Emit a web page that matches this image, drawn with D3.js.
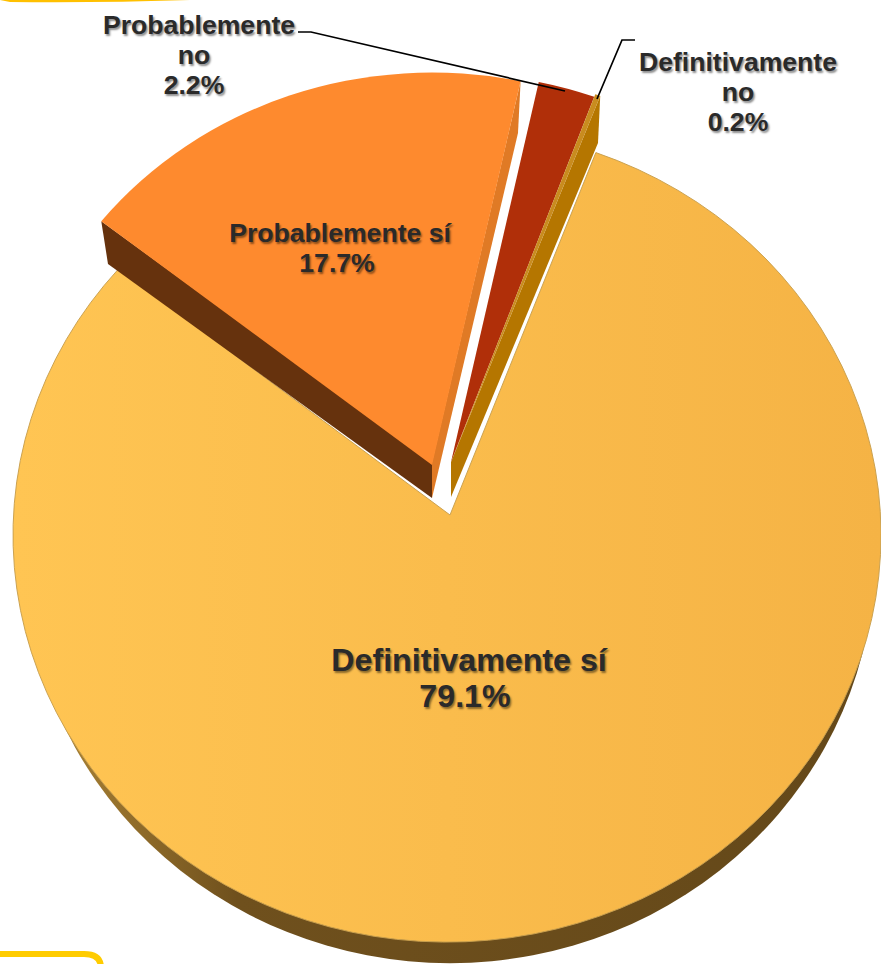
<!DOCTYPE html>
<html>
<head>
<meta charset="utf-8">
<script src="https://cdnjs.cloudflare.com/ajax/libs/d3/7.8.5/d3.min.js"></script>
<style>
html, body { margin: 0; padding: 0; background: #fff; overflow: hidden; }
text { font-family: "Liberation Sans", Arial, sans-serif; font-weight: bold; fill: #2a2a2a; text-anchor: middle; text-shadow: 1.5px 1.5px 2px rgba(0,0,0,.45); }
</style>
</head>
<body>
<div id="chart"></div>
<script>
const CATEGORIES = ["Definitivamente sí", "Probablemente sí", "Probablemente no", "Definitivamente no"];
const VALUES = [79.1, 17.7, 2.2, 0.2];
const LABELS = ["79.1%", "17.7%", "2.2%", "0.2%"];

const WIDTH = 881, HEIGHT = 964;
const RAD = Math.PI / 180;

// how the page is tilted: height of the pie / width of the pie
const TILT = 0.93;
const MAIN_TILT = 0.938;
const START_DEG = -51.6;

// slice layout, same order as CATEGORIES (cx,cy = apex after it is pulled out)
const SLICES = [
    {cx: 447, cy: 535, r: 434},
    {cx: 432, cy: 465, r: 422},
    {cx: 451, cy: 462, r: 418},
    {cx: 451, cy: 462, r: 421}
];
const TOP_COLORS = ["url(#mainTop)", "#fe8a2e", "#b02f09", "#c98c1f"];
const LABEL_POS = [
    {x: 469, y: 671, size: 32.2, step: 36, lines: [[CATEGORIES[0], 0], [LABELS[0], -4]]},
    {x: 340, y: 242, size: 26.6, step: 30, lines: [[CATEGORIES[1], 0], [LABELS[1], -3]]},
    {x: 199, y: 34, size: 26.6, step: 30, lines: [["Probablemente", 0], ["no", -5], [LABELS[2], -5]]},
    {x: 738, y: 71, size: 26.6, step: 30, lines: [["Definitivamente", 0], ["no", 0], [LABELS[3], 0]]}
];

var svg = d3.select('#chart').append('svg')
    .attr('width', WIDTH)
    .attr('height', HEIGHT)
    .style('display', 'block');

var defs = svg.append('defs');
var grad = defs.append('linearGradient').attr('id', 'mainTop');
grad.append('stop').attr('offset', '0%').attr('stop-color', '#ffc553');
grad.append('stop').attr('offset', '100%').attr('stop-color', '#f5b345');
var wallGrad = defs.append('linearGradient').attr('id', 'mainWall');
wallGrad.append('stop').attr('offset', '5%').attr('stop-color', '#a67f33');
wallGrad.append('stop').attr('offset', '25%').attr('stop-color', '#6f501d');
wallGrad.append('stop').attr('offset', '100%').attr('stop-color', '#644819');

// slices run clockwise from the left corner of the orange one
// the four values only add up to 99.2 so the sweep is cut to match
var total = d3.sum(VALUES);
var pie = d3.pie().sort(null).startAngle(START_DEG * RAD).endAngle((START_DEG + total * 3.6) * RAD);
var order = [1, 2, 3, 0];
var arcs = pie(order.map(function(i) { return VALUES[i]; }));
var angles = {};
order.forEach(function(i, k) { angles[i] = arcs[k]; });

function point(i, a) {
    var s = SLICES[i];
    return [s.cx + s.r * Math.sin(a), s.cy - s.r * TILT * Math.cos(a)];
}
function poly(pts) { return 'M' + pts.map(function(p) { return p[0] + ',' + p[1]; }).join('L') + 'Z'; }

// wall of the big slice, only the front half is ever visible
var wall = d3.path();
wall.arc(0, 0, 425, 0, Math.PI, false);
wall.closePath();
svg.append('path')
    .attr('d', wall.toString())
    .attr('transform', 'translate(450,555) scale(1,' + (408 / 425) + ')')
    .attr('fill', 'url(#mainWall)');

// big slice, apex sits above the centre of its ellipse because of the perspective
var apexMain = [450, 515];
var mainA0 = angles[0].startAngle - 0.7 * RAD;
var mainA1 = angles[0].endAngle + 5.3 * RAD;
var main = d3.path();
main.moveTo(apexMain[0] - SLICES[0].cx, (apexMain[1] - SLICES[0].cy) / MAIN_TILT);
main.arc(0, 0, SLICES[0].r, mainA0 - Math.PI / 2, mainA1 - Math.PI / 2, false);
main.closePath();
svg.append('path')
    .attr('d', main.toString())
    .attr('transform', 'translate(' + SLICES[0].cx + ',' + SLICES[0].cy + ') scale(1,' + MAIN_TILT + ')')
    .attr('fill', TOP_COLORS[0])
    .attr('stroke', '#c9a04e')
    .attr('stroke-width', 1);

// orange slice cut faces
var oL = point(1, angles[1].startAngle);
var oR = point(1, angles[1].endAngle);
svg.append('path').attr('d', poly([[432, 462], oL, [108, 264], [432, 498]])).attr('fill', '#66320d');
svg.append('path').attr('d', poly([[432, 462], oR, [518, 133], [432, 498]])).attr('fill', '#e07a25');

// amber slice cut face
var aR = point(3, angles[3].endAngle);
svg.append('path').attr('d', poly([[451, 462], aR, [598, 143], [451, 497]])).attr('fill', '#b57600');

// top faces of the three pulled slices
var arcGen = d3.arc().innerRadius(0);
[1, 2, 3].forEach(function(i) {
    var s = SLICES[i];
    svg.append('path')
        .attr('d', arcGen.outerRadius(s.r)(angles[i]))
        .attr('transform', 'translate(' + s.cx + ',' + s.cy + ') scale(1,' + TILT + ')')
        .attr('fill', TOP_COLORS[i]);
});

// leader lines
var leader = d3.line();
svg.append('path').attr('d', leader([[298, 32], [311, 32], [565, 91]]))
    .attr('fill', 'none').attr('stroke', '#000').attr('stroke-width', 1.7);
svg.append('path').attr('d', leader([[597, 99], [622, 40], [635, 40]]))
    .attr('fill', 'none').attr('stroke', '#000').attr('stroke-width', 1.7);

// labels
LABEL_POS.forEach(function(l) {
    l.lines.forEach(function(line, k) {
        svg.append('text')
            .attr('x', l.x + line[1])
            .attr('y', l.y + k * l.step)
            .attr('font-size', l.size)
            .text(line[0]);
    });
});

// bits of the slide frame that are left in the crop
svg.append('path').attr('d', 'M-5,954 H84 Q101,954 101,968')
    .attr('fill', 'none').attr('stroke', '#ffcc00').attr('stroke-width', 6);
svg.append('path').attr('d', 'M0,0 H190 Q100,3 10,2 Z').attr('fill', '#ffc000');
</script>
</body>
</html>
